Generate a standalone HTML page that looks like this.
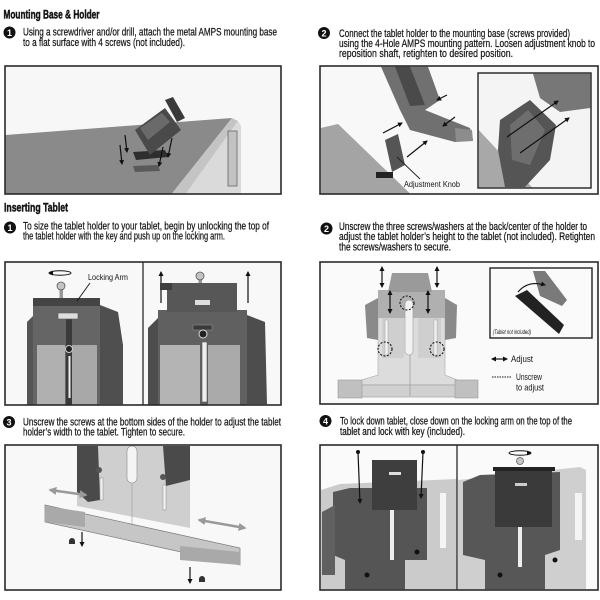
<!DOCTYPE html>
<html><head><meta charset="utf-8"><style>
html,body{margin:0;padding:0;background:#fff;}
svg{display:block;}
text{font-family:"Liberation Sans",sans-serif;fill:#141414;}
.t{font-size:10.6px;stroke:#141414;stroke-width:0.22;}
.h{font-size:11.6px;font-weight:bold;stroke:#111;stroke-width:0.45;}
.n{font-size:9px;font-weight:bold;fill:#fff;stroke:none;}
.b{fill:none;stroke:#2a2a2a;stroke-width:1.6;}
.ar{fill:none;stroke:#111;stroke-width:1.2;}
</style></head><body>
<svg width="600" height="600" viewBox="0 0 600 600" xmlns="http://www.w3.org/2000/svg">
<defs>
<marker id="a" viewBox="0 0 10 10" refX="8" refY="5" markerWidth="5" markerHeight="5" orient="auto-start-reverse" markerUnits="userSpaceOnUse"><path d="M0,0 L10,5 L0,10z" fill="#111"/></marker>
<marker id="g" viewBox="0 0 10 10" refX="8" refY="5" markerWidth="8" markerHeight="8" orient="auto-start-reverse" markerUnits="userSpaceOnUse"><path d="M0,0 L10,5 L0,10z" fill="#9a9a9a"/></marker>
</defs>

<!-- ===== HEADINGS & TEXT ===== -->
<text class="h" x="3.5" y="18.5" textLength="96" lengthAdjust="spacingAndGlyphs">Mounting Base &amp; Holder</text>
<circle cx="9.5" cy="32.5" r="6" fill="#111"/><text class="n" x="9.5" y="35.8" text-anchor="middle">1</text>
<text class="t" x="23" y="35.5" textLength="254" lengthAdjust="spacingAndGlyphs">Using a screwdriver and/or drill, attach the metal AMPS mounting base</text>
<text class="t" x="23" y="45.8" textLength="162" lengthAdjust="spacingAndGlyphs">to a flat surface with 4 screws (not included).</text>

<circle cx="324" cy="33" r="6" fill="#111"/><text class="n" x="324" y="36.3" text-anchor="middle">2</text>
<text class="t" x="339" y="37" textLength="231" lengthAdjust="spacingAndGlyphs">Connect the tablet holder to the mounting base (screws provided)</text>
<text class="t" x="339" y="47" textLength="256" lengthAdjust="spacingAndGlyphs">using the 4-Hole AMPS mounting pattern. Loosen adjustment knob to</text>
<text class="t" x="339" y="57" textLength="174" lengthAdjust="spacingAndGlyphs">reposition shaft, retighten to desired position.</text>

<text class="h" x="4" y="211.5" textLength="64" lengthAdjust="spacingAndGlyphs">Inserting Tablet</text>
<circle cx="10" cy="227.5" r="6" fill="#111"/><text class="n" x="10" y="230.8" text-anchor="middle">1</text>
<text class="t" x="23" y="229.5" textLength="246" lengthAdjust="spacingAndGlyphs">To size the tablet holder to your tablet, begin by unlocking the top of</text>
<text class="t" x="23" y="239.7" textLength="202" lengthAdjust="spacingAndGlyphs">the tablet holder with the key and push up on the locking arm.</text>

<circle cx="326.5" cy="228.5" r="6" fill="#111"/><text class="n" x="326.5" y="231.8" text-anchor="middle">2</text>
<text class="t" x="339" y="230" textLength="248" lengthAdjust="spacingAndGlyphs">Unscrew the three screws/washers at the back/center of the holder to</text>
<text class="t" x="339" y="240.2" textLength="256" lengthAdjust="spacingAndGlyphs">adjust the tablet holder’s height to the tablet (not included). Retighten</text>
<text class="t" x="339" y="250.4" textLength="112" lengthAdjust="spacingAndGlyphs">the screws/washers to secure.</text>

<circle cx="9" cy="422" r="6" fill="#111"/><text class="n" x="9" y="425.3" text-anchor="middle">3</text>
<text class="t" x="23" y="425.3" textLength="258" lengthAdjust="spacingAndGlyphs">Unscrew the screws at the bottom sides of the holder to adjust the tablet</text>
<text class="t" x="23" y="435.6" textLength="162" lengthAdjust="spacingAndGlyphs">holder’s width to the tablet. Tighten to secure.</text>

<circle cx="325.5" cy="421" r="6" fill="#111"/><text class="n" x="325.5" y="424.3" text-anchor="middle">4</text>
<text class="t" x="340" y="424.5" textLength="232" lengthAdjust="spacingAndGlyphs">To lock down tablet, close down on the locking arm on the top of the</text>
<text class="t" x="340" y="434.8" textLength="125" lengthAdjust="spacingAndGlyphs">tablet and lock with key (included).</text>

<!-- ===== PANEL A ===== -->
<rect x="5" y="66" width="276" height="128" fill="#f7f7f7"/>
<polygon points="5.5,135 232,118 172,193.5 5.5,193.5" fill="#8a8a8a"/>
<polygon points="232,118 238,121 186,193.5 172,193.5" fill="#c4c4c4"/>
<polygon points="238,121 241,126 241,193.5 186,193.5" fill="#dadada"/>
<rect x="228" y="131" width="9" height="55" fill="#c2c2c2" stroke="#666" stroke-width="0.8"/>
<polygon points="133,166 158,165 160,171 135,172" fill="#5a5a5a"/>
<polygon points="133,152 165,150 168,157 136,160" fill="#2e2e2e"/>
<polygon points="135,130 165,108 181,130 150,155" fill="#4a4a4a"/>
<polygon points="140,128 162,113 170,122 148,140" fill="#6a6a6a"/>
<polygon points="165,100 173,97 185,118 177,122" fill="#3a3a3a"/>
<line class="ar" x1="125" y1="135" x2="127" y2="152" marker-end="url(#a)"/>
<line class="ar" x1="120" y1="145" x2="122" y2="164" marker-end="url(#a)"/>
<line class="ar" x1="172" y1="138" x2="168" y2="157" marker-end="url(#a)"/>
<line class="ar" x1="163" y1="147" x2="159" y2="166" marker-end="url(#a)"/>
<rect class="b" x="5" y="66" width="276" height="128"/>

<!-- ===== PANEL B ===== -->
<rect x="320" y="66" width="278" height="128" fill="#f8f8f8"/>
<polygon points="320.75,128 338,124 410,193.5 320.75,193.5" fill="#a4a4a4"/>
<polygon points="381,66.75 428,66.75 440,100 425,110 470,128 473,140 455,142 410,130 400,110" fill="#707070"/>
<polygon points="395,66.75 410,66.75 425,105 410,106" fill="#4a4a4a"/>
<polygon points="455,128 472,130 473,141 456,142" fill="#8c8c8c"/>
<polygon points="385,140 398,134 405,165 392,172" fill="#555"/>
<rect x="376" y="172" width="17" height="6" fill="#222"/>
<line x1="397" y1="157" x2="420" y2="179" stroke="#222" stroke-width="0.9"/>
<text x="404" y="187" font-size="8" textLength="56" lengthAdjust="spacingAndGlyphs">Adjustment Knob</text>
<line class="ar" x1="383" y1="133" x2="402" y2="123" marker-end="url(#a)"/>
<line class="ar" x1="407" y1="157" x2="427" y2="141" marker-end="url(#a)"/>
<line class="ar" x1="447" y1="95" x2="437" y2="100" marker-end="url(#a)"/>
<line class="ar" x1="455" y1="117" x2="443" y2="126" marker-end="url(#a)"/>
<rect x="478" y="73" width="113" height="115" fill="#f4f4f4"/>
<polygon points="478.75,130 478.75,187.25 532,187.25" fill="#a8a8a8"/>
<polygon points="533,73.75 590.25,73.75 590.25,108 560,112 540,98" fill="#777"/>
<polygon points="500,120 530,100 556,125 550,160 525,187 505,187 498,150" fill="#555"/>
<polygon points="510,125 528,110 545,130 530,165 512,160" fill="#6e6e6e"/>
<line class="ar" x1="507" y1="137" x2="558" y2="101" marker-end="url(#a)"/>
<line class="ar" x1="520" y1="153" x2="569" y2="118" marker-end="url(#a)"/>
<rect x="478" y="73" width="113" height="115" fill="none" stroke="#222" stroke-width="1.4"/>
<rect class="b" x="320" y="66" width="278" height="128"/>

<!-- ===== PANEL C ===== -->
<rect x="5" y="262" width="276" height="143" fill="#f8f8f8"/>
<polygon points="27,322 37,312 37,405 27,405" fill="#555"/>
<polygon points="100,305 118,312 123,345 123,404.25 100,404.25" fill="#4f4f4f"/>
<rect x="33" y="298" width="67" height="107" fill="#656565"/>
<rect x="33" y="298" width="67" height="8" fill="#444"/>
<rect x="37" y="345" width="28" height="60" fill="#b0b0b0"/>
<rect x="72" y="345" width="25" height="60" fill="#a8a8a8"/>
<rect x="66" y="318" width="6" height="87" fill="#3a3a3a"/>
<circle cx="69" cy="349" r="3.5" fill="#222" stroke="#ccc" stroke-width="1"/>
<rect x="68.5" y="356" width="2" height="42" fill="#eee"/>
<rect x="58" y="313" width="20" height="6" fill="#ddd" stroke="#555" stroke-width="0.6"/>
<rect x="59.5" y="289" width="3.5" height="9" fill="#999"/>
<circle cx="61" cy="286" r="4" fill="#c4c4c4" stroke="#555" stroke-width="0.8"/>
<ellipse cx="60" cy="273" rx="11" ry="2.2" fill="none" stroke="#111" stroke-width="1"/>
<path d="M49,273 l4,-2.5 v5z" fill="#111"/>
<text x="88" y="280" font-size="8.5" textLength="40" lengthAdjust="spacingAndGlyphs">Locking Arm</text>
<line x1="90" y1="283" x2="77" y2="301" stroke="#111" stroke-width="0.9"/>
<line x1="143" y1="262" x2="143" y2="405" stroke="#2a2a2a" stroke-width="1.3"/>
<line class="ar" x1="161" y1="303" x2="161" y2="272" marker-end="url(#a)"/>
<line class="ar" x1="248" y1="303" x2="248" y2="272" marker-end="url(#a)"/>
<rect x="198.5" y="279" width="3.5" height="6" fill="#999"/>
<circle cx="200" cy="276" r="4" fill="#c4c4c4" stroke="#555" stroke-width="0.8"/>
<polygon points="148,328 158,318 158,405 148,405" fill="#4d4d4d"/>
<polygon points="247,315 265,322 267,404.25 247,404.25" fill="#4d4d4d"/>
<rect x="158" y="310" width="89" height="95" fill="#606060"/>
<rect x="167" y="283" width="70" height="29" fill="#575757"/>
<rect x="160" y="283" width="12" height="7" fill="#3e3e3e"/>
<rect x="195" y="300" width="15" height="5" fill="#ddd"/>
<rect x="193" y="325" width="19" height="5" fill="#3a3a3a" stroke="#999" stroke-width="0.5"/>
<rect x="160" y="345" width="40" height="60" fill="#b4b4b4"/>
<rect x="208" y="345" width="32" height="60" fill="#aaa"/>
<rect x="202" y="342" width="5" height="60" fill="#eee" stroke="#555" stroke-width="0.6"/>
<circle cx="203" cy="334" r="4" fill="#222" stroke="#ddd" stroke-width="1"/>
<rect class="b" x="5" y="262" width="276" height="143"/>

<!-- ===== PANEL D ===== -->
<rect x="320" y="262" width="278" height="142" fill="#fafafa"/>
<polygon points="378,300 445,300 445,375 470,385 345,385 378,375" fill="#dcdcdc" stroke="#aaa" stroke-width="0.6"/>
<rect x="340" y="385" width="137" height="12" fill="#d0d0d0" stroke="#999" stroke-width="0.6"/>
<rect x="338" y="380" width="24" height="18" fill="#c0c0c0" stroke="#999" stroke-width="0.6"/>
<rect x="455" y="380" width="23" height="18" fill="#c0c0c0" stroke="#999" stroke-width="0.6"/>
<polygon points="365,305 378,298 378,340 367,338" fill="#8a8a8a"/>
<polygon points="445,298 457,305 456,338 445,340" fill="#8a8a8a"/>
<rect x="378" y="290" width="67" height="28" fill="#b0b0b0"/>
<rect x="382" y="318" width="22" height="40" fill="#cfcfcf"/>
<rect x="418" y="318" width="23" height="40" fill="#cfcfcf"/>
<rect x="385" y="320" width="3" height="35" fill="#f2f2f2" stroke="#999" stroke-width="0.4"/>
<rect x="434" y="320" width="3" height="35" fill="#f2f2f2" stroke="#999" stroke-width="0.4"/>
<polygon points="392,273 428,273 432,292 388,292" fill="#9a9a9a"/>
<rect x="405" y="300" width="8" height="55" rx="4" fill="#f2f2f2" stroke="#999" stroke-width="0.6"/>
<line x1="410" y1="355" x2="410" y2="396" stroke="#999" stroke-width="0.7"/>
<circle cx="407" cy="303" r="7" fill="none" stroke="#111" stroke-width="1.1" stroke-dasharray="2,1.5"/>
<circle cx="385" cy="349" r="7" fill="none" stroke="#111" stroke-width="1.1" stroke-dasharray="2,1.5"/>
<circle cx="437" cy="349" r="7" fill="none" stroke="#111" stroke-width="1.1" stroke-dasharray="2,1.5"/>
<line class="ar" x1="382" y1="267" x2="382" y2="287" marker-start="url(#a)" marker-end="url(#a)"/>
<line class="ar" x1="437" y1="267" x2="437" y2="287" marker-start="url(#a)" marker-end="url(#a)"/>
<line class="ar" x1="390" y1="291" x2="390" y2="313" marker-start="url(#a)" marker-end="url(#a)"/>
<line class="ar" x1="428" y1="291" x2="428" y2="313" marker-start="url(#a)" marker-end="url(#a)"/>
<rect x="490" y="268" width="102" height="70" fill="#fafafa" stroke="#222" stroke-width="1.4"/>
<polygon points="533,271 545,271 567,300 562,306 540,296" fill="#7a7a7a"/>
<polygon points="515,296 527,290 564,325 559,334" fill="#222"/>
<path d="M518,292 Q528,280 545,285" fill="none" stroke="#111" stroke-width="1.1" marker-end="url(#a)"/>
<text x="493" y="334" font-size="6" font-style="italic" textLength="38" lengthAdjust="spacingAndGlyphs">(Tablet not included)</text>
<line class="ar" x1="492" y1="359" x2="507" y2="359" marker-start="url(#a)" marker-end="url(#a)"/>
<text x="511" y="362" font-size="9.5" textLength="22" lengthAdjust="spacingAndGlyphs">Adjust</text>
<line x1="492" y1="377" x2="512" y2="377" stroke="#111" stroke-width="1.1" stroke-dasharray="1.5,1"/>
<text x="516" y="380" font-size="9.5" textLength="26" lengthAdjust="spacingAndGlyphs">Unscrew</text>
<text x="516" y="390.5" font-size="9.5" textLength="28" lengthAdjust="spacingAndGlyphs">to adjust</text>
<rect class="b" x="320" y="262" width="278" height="142"/>

<!-- ===== PANEL E ===== -->
<rect x="5" y="445" width="276" height="145" fill="#f8f8f8"/>
<polygon points="77,446 190,446 190,528 77,506" fill="#cfcfcf"/>
<polygon points="77,446 98,446 100,500 88,502 77,492" fill="#4a4a4a"/>
<polygon points="163,446 190,446 190,480 166,486" fill="#4a4a4a"/>
<rect x="100" y="478" width="3" height="22" fill="#f2f2f2" stroke="#777" stroke-width="0.4"/>
<rect x="163" y="485" width="3" height="25" fill="#f2f2f2" stroke="#777" stroke-width="0.4"/>
<circle cx="99" cy="470" r="3" fill="#555"/>
<circle cx="163" cy="477" r="3" fill="#555"/>
<rect x="127" y="446" width="10" height="37" rx="5" fill="#f4f4f4" stroke="#888" stroke-width="0.6"/>
<line x1="132" y1="483" x2="132" y2="535" stroke="#999" stroke-width="0.6"/>
<polygon points="45,505 240,548 240,565 45,522" fill="#c6c6c6" stroke="#777" stroke-width="0.7"/>
<polygon points="45,506 85,512 85,527 45,522" fill="#a9a9a9"/>
<polygon points="180,546 240,552 240,565 180,560" fill="#a9a9a9"/>
<line x1="50" y1="490" x2="86" y2="495" stroke="#9a9a9a" stroke-width="2.5" marker-start="url(#g)" marker-end="url(#g)"/>
<line x1="199" y1="520" x2="245" y2="528" stroke="#9a9a9a" stroke-width="2.5" marker-start="url(#g)" marker-end="url(#g)"/>
<path d="M69,541 a3,3 0 0 1 6,0 v3 h-6z" fill="#333"/>
<line class="ar" x1="82" y1="532" x2="82" y2="546" marker-end="url(#a)"/>
<line class="ar" x1="190" y1="567" x2="190" y2="583" marker-end="url(#a)"/>
<path d="M199,579 a3,3 0 0 1 6,0 v3 h-6z" fill="#333"/>
<rect class="b" x="5" y="445" width="276" height="145"/>

<!-- ===== PANEL F ===== -->
<rect x="320" y="445" width="278" height="145" fill="#fafafa"/>
<polygon points="321,490 340,484 457,479 457,589.25 321,589.25" fill="#cbcbcb"/>
<rect x="440" y="493" width="6" height="55" fill="#f4f4f4"/>
<polygon points="333,492 350,488 427,488 427,560 405,560 405,589.25 345,589.25 345,560 333,555" fill="#555"/>
<polygon points="322,512 335,505 335,575 322,575" fill="#606060"/>
<rect x="372" y="460" width="45" height="50" fill="#3e3e3e"/>
<rect x="389" y="472" width="12" height="3" fill="#ddd"/>
<rect x="390" y="510" width="4" height="50" fill="#eee"/>
<circle cx="367" cy="575" r="2.5" fill="#111"/>
<circle cx="417" cy="552" r="2.5" fill="#111"/>
<circle cx="358" cy="452" r="2" fill="#111"/>
<circle cx="423" cy="452" r="2" fill="#111"/>
<line class="ar" x1="358" y1="452" x2="360" y2="503" marker-end="url(#a)"/>
<line class="ar" x1="423" y1="452" x2="421" y2="498" marker-end="url(#a)"/>
<line x1="457" y1="445" x2="457" y2="590" stroke="#2a2a2a" stroke-width="1.3"/>
<polygon points="458,480 580,467 586,470 586,589.25 458,589.25" fill="#cfcfcf"/>
<rect x="575" y="493" width="7" height="47" fill="#f4f4f4"/>
<polygon points="463,482 480,475 560,472 560,550 545,555 545,589.25 485,589.25 485,560 463,555" fill="#575757"/>
<rect x="495" y="470" width="57" height="57" fill="#3a3a3a"/>
<rect x="493" y="467" width="62" height="4" fill="#222"/>
<rect x="515" y="483" width="12" height="3" fill="#ccc"/>
<rect x="518" y="527" width="4" height="40" fill="#eee"/>
<circle cx="520" cy="461" r="3.5" fill="#c4c4c4" stroke="#555" stroke-width="0.7"/>
<ellipse cx="520" cy="453" rx="11" ry="2.2" fill="none" stroke="#111" stroke-width="1"/>
<path d="M531,453 l-4,-2.5 v5z" fill="#111"/>
<circle cx="500" cy="575" r="2.5" fill="#111"/>
<circle cx="555" cy="560" r="2.5" fill="#111"/>
<rect class="b" x="320" y="445" width="278" height="145"/>
</svg>
</body></html>
